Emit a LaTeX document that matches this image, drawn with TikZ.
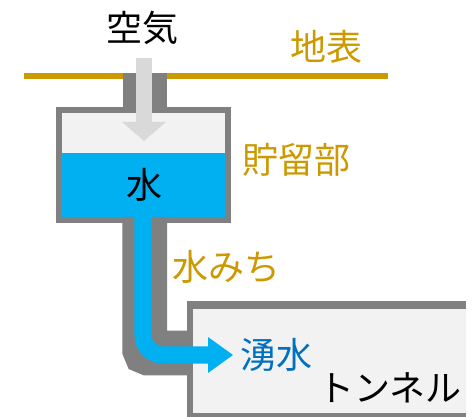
\documentclass[tikz,border=0pt]{standalone}
\usepackage{fontspec}
\setmainfont{Noto Sans CJK JP}
\definecolor{wallgray}{HTML}{808080}
\definecolor{roomfill}{HTML}{F2F2F2}
\definecolor{water}{HTML}{00B0F0}
\definecolor{airgray}{HTML}{D9D9D9}
\definecolor{gold}{HTML}{CC9900}
\definecolor{springblue}{HTML}{0070C0}
\begin{document}
\begin{tikzpicture}[x=0.75pt,y=-0.75pt,
  label/.style={inner sep=0pt,font=\fontsize{27}{32}\selectfont},
  goldlabel/.style={label,text=gold}]
\useasboundingbox (0,0) rectangle (476,417);

% ground surface
\fill[gold] (24,72.7) rectangle (388,79);

% air shaft and storage tank
\fill[wallgray] (122.7,72.7) rectangle (167.3,112);
\fill[wallgray] (56,107) rectangle (231,223);
\fill[roomfill] (62,113) rectangle (225,153);
\fill[water] (62,153) rectangle (225,217);

% seepage path casing
\draw[wallgray,line width=33.4pt,rounded corners=2.5pt]
  (144.75,217) -- (144.75,353) -- (192,353);

% tunnel
\fill[wallgray] (187,301) rectangle (466,417);
\fill[roomfill] (193,309) rectangle (466,413);

% water flow
\coordinate (flowtop) at (143,200);
\coordinate (flowbend) at (143,355);
\coordinate (flowend) at (209,355);
\draw[water,line width=12.8pt,rounded corners=15pt] (flowtop) -- (flowbend) -- (flowend);
\fill[water] (208,337) -- (233,355) -- (208,373) -- cycle;

% air inflow arrow
\fill[airgray] (135.7,58) rectangle (152,122.5);
\fill[airgray] (122,122) -- (166,122) -- (144,141) -- cycle;

% labels
\node[label] (air) at (143,27.5) {空気};
\node[goldlabel] (surface) at (326.5,46.5) {地表};
\node[goldlabel] (storage) at (296.5,160) {貯留部};
\node[label] (tankwater) at (144.5,184.5) {水};
\node[goldlabel] (path) at (226.5,267) {水みち};
\node[label,text=springblue] (spring) at (276.5,354.5) {湧水};
\node[label] (tunnel) at (390,387.5) {トンネル};
\end{tikzpicture}
\end{document}
